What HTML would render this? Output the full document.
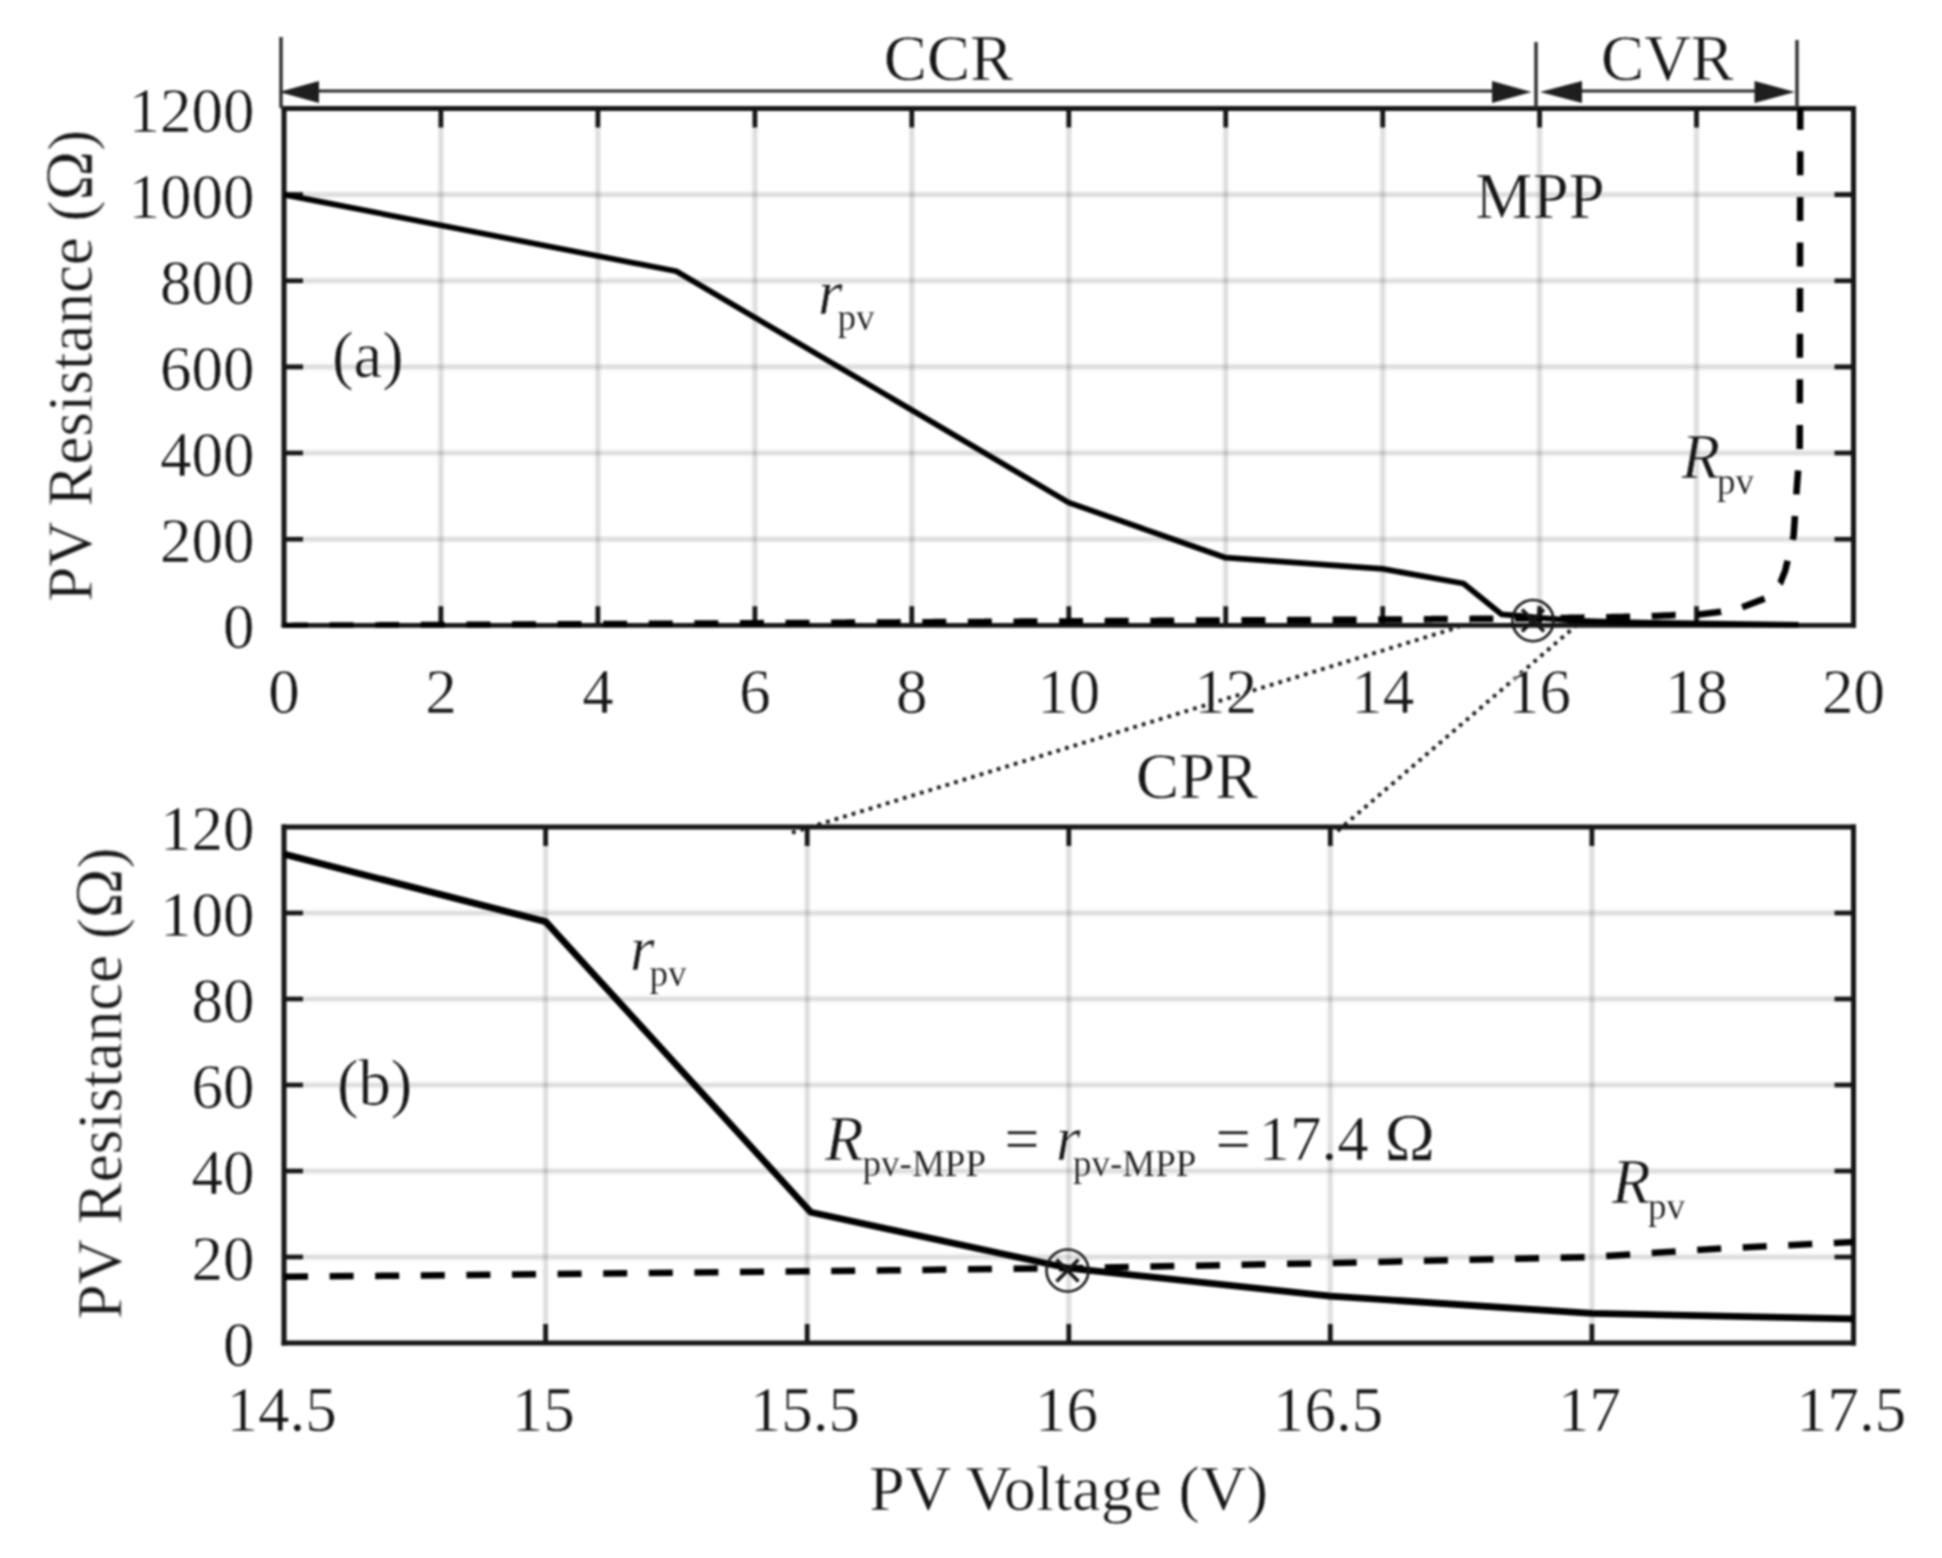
<!DOCTYPE html>
<html lang="en"><head><meta charset="utf-8"><title>PV Resistance vs PV Voltage</title>
<style>html,body{margin:0;padding:0;background:#fff;}body{width:1942px;height:1558px;overflow:hidden;}svg{display:block;}text{font-family:"Liberation Serif","DejaVu Serif",serif;fill:#161616;stroke:#fff;stroke-width:.55px;}.s{stroke-width:.25px;}.i{font-style:italic;}</style>
</head><body>
<svg width="1942" height="1558" viewBox="0 0 1942 1558">
<defs><filter id="b" x="0" y="0" width="1942" height="1558" filterUnits="userSpaceOnUse" color-interpolation-filters="sRGB"><feGaussianBlur stdDeviation="1.05"/></filter><filter id="g" x="0" y="0" width="1942" height="1558" filterUnits="userSpaceOnUse" color-interpolation-filters="sRGB"><feGaussianBlur stdDeviation="0.8"/></filter><clipPath id="c1"><rect x="281" y="106" width="1576" height="521.7"/></clipPath></defs>
<rect width="1942" height="1558" fill="#fff"/>
<g filter="url(#g)">
<path d="M440.9 108.5 V625.3 M597.9 108.5 V625.3 M754.9 108.5 V625.3 M911.8 108.5 V625.3 M1068.8 108.5 V625.3 M1225.7 108.5 V625.3 M1382.7 108.5 V625.3 M1539.6 108.5 V625.3 M1696.5 108.5 V625.3" stroke="#000" stroke-opacity="0.055" stroke-width="7" fill="none"/>
<path d="M440.9 108.5 V625.3 M597.9 108.5 V625.3 M754.9 108.5 V625.3 M911.8 108.5 V625.3 M1068.8 108.5 V625.3 M1225.7 108.5 V625.3 M1382.7 108.5 V625.3 M1539.6 108.5 V625.3 M1696.5 108.5 V625.3" stroke="#000" stroke-opacity="0.085" stroke-width="3.6" fill="none"/>
<path d="M284.0 539.2 H1853.5 M284.0 453.0 H1853.5 M284.0 366.9 H1853.5 M284.0 280.8 H1853.5 M284.0 194.6 H1853.5" stroke="#000" stroke-opacity="0.055" stroke-width="7" fill="none"/>
<path d="M284.0 539.2 H1853.5 M284.0 453.0 H1853.5 M284.0 366.9 H1853.5 M284.0 280.8 H1853.5 M284.0 194.6 H1853.5" stroke="#000" stroke-opacity="0.085" stroke-width="3.6" fill="none"/>
<path d="M545.6 827.0 V1343.0 M807.2 827.0 V1343.0 M1068.8 827.0 V1343.0 M1330.3 827.0 V1343.0 M1591.9 827.0 V1343.0" stroke="#000" stroke-opacity="0.055" stroke-width="7" fill="none"/>
<path d="M545.6 827.0 V1343.0 M807.2 827.0 V1343.0 M1068.8 827.0 V1343.0 M1330.3 827.0 V1343.0 M1591.9 827.0 V1343.0" stroke="#000" stroke-opacity="0.085" stroke-width="3.6" fill="none"/>
<path d="M284.0 1257.0 H1853.5 M284.0 1171.0 H1853.5 M284.0 1085.0 H1853.5 M284.0 999.0 H1853.5 M284.0 913.0 H1853.5" stroke="#000" stroke-opacity="0.055" stroke-width="7" fill="none"/>
<path d="M284.0 1257.0 H1853.5 M284.0 1171.0 H1853.5 M284.0 1085.0 H1853.5 M284.0 999.0 H1853.5 M284.0 913.0 H1853.5" stroke="#000" stroke-opacity="0.085" stroke-width="3.6" fill="none"/>
</g>
<g filter="url(#b)">
<path d="M440.9 108.5 v19 M440.9 625.3 v-19 M597.9 108.5 v19 M597.9 625.3 v-19 M754.9 108.5 v19 M754.9 625.3 v-19 M911.8 108.5 v19 M911.8 625.3 v-19 M1068.8 108.5 v19 M1068.8 625.3 v-19 M1225.7 108.5 v19 M1225.7 625.3 v-19 M1382.7 108.5 v19 M1382.7 625.3 v-19 M1539.6 108.5 v19 M1539.6 625.3 v-19 M1696.5 108.5 v19 M1696.5 625.3 v-19 M284.0 539.2 h19 M1853.5 539.2 h-19 M284.0 453.0 h19 M1853.5 453.0 h-19 M284.0 366.9 h19 M1853.5 366.9 h-19 M284.0 280.8 h19 M1853.5 280.8 h-19 M284.0 194.6 h19 M1853.5 194.6 h-19" stroke="#161616" stroke-width="4.6" fill="none"/>
<path d="M545.6 827.0 v19 M545.6 1343.0 v-19 M807.2 827.0 v19 M807.2 1343.0 v-19 M1068.8 827.0 v19 M1068.8 1343.0 v-19 M1330.3 827.0 v19 M1330.3 1343.0 v-19 M1591.9 827.0 v19 M1591.9 1343.0 v-19 M284.0 1257.0 h19 M1853.5 1257.0 h-19 M284.0 1171.0 h19 M1853.5 1171.0 h-19 M284.0 1085.0 h19 M1853.5 1085.0 h-19 M284.0 999.0 h19 M1853.5 999.0 h-19 M284.0 913.0 h19 M1853.5 913.0 h-19" stroke="#161616" stroke-width="4.6" fill="none"/>
<path d="M284.0 108.5 H1853.5 M284.0 625.3 H1853.5" fill="none" stroke="#161616" stroke-width="4.8" stroke-linecap="square"/>
<path d="M284.0 108.5 V625.3 M1853.5 108.5 V625.3" fill="none" stroke="#161616" stroke-width="5.1" stroke-linecap="square"/>
<path d="M284.0 827.0 H1853.5 M284.0 1343.0 H1853.5" fill="none" stroke="#161616" stroke-width="4.8" stroke-linecap="square"/>
<path d="M284.0 827.0 V1343.0 M1853.5 827.0 V1343.0" fill="none" stroke="#161616" stroke-width="5.1" stroke-linecap="square"/>
<polyline points="284.0,194.6 676.4,271.3 1068.8,502.6 1225.7,557.7 1382.7,568.9 1463.5,583.5 1501.5,614.3 1520.0,615.8 1539.6,617.8 1578.8,620.8 1618.1,622.1 1657.3,622.9 1798.6,624.9" fill="none" stroke="#000" stroke-width="5.7" stroke-linejoin="round"/>
<polyline points="284.0,625.9 285.6,625.9 287.1,625.9 288.7,625.9 290.3,625.9 291.8,625.9 293.4,625.8 295.0,625.8 296.6,625.8 298.1,625.8 299.7,625.8 301.3,625.8 302.8,625.8 304.4,625.8 306.0,625.8 307.5,625.8 309.1,625.8 310.7,625.7 312.3,625.7 313.8,625.7 315.4,625.7 317.0,625.7 318.5,625.7 320.1,625.7 321.7,625.7 323.2,625.7 324.8,625.7 326.4,625.7 327.9,625.6 329.5,625.6 331.1,625.6 332.7,625.6 334.2,625.6 335.8,625.6 337.4,625.6 338.9,625.6 340.5,625.6 342.1,625.6 343.6,625.6 345.2,625.5 346.8,625.5 348.3,625.5 349.9,625.5 351.5,625.5 353.1,625.5 354.6,625.5 356.2,625.5 357.8,625.5 359.3,625.5 360.9,625.5 362.5,625.4 364.0,625.4 365.6,625.4 367.2,625.4 368.8,625.4 370.3,625.4 371.9,625.4 373.5,625.4 375.0,625.4 376.6,625.4 378.2,625.4 379.7,625.3 381.3,625.3 382.9,625.3 384.4,625.3 386.0,625.3 387.6,625.3 389.2,625.3 390.7,625.3 392.3,625.3 393.9,625.3 395.4,625.3 397.0,625.2 398.6,625.2 400.1,625.2 401.7,625.2 403.3,625.2 404.9,625.2 406.4,625.2 408.0,625.2 409.6,625.2 411.1,625.2 412.7,625.2 414.3,625.1 415.8,625.1 417.4,625.1 419.0,625.1 420.5,625.1 422.1,625.1 423.7,625.1 425.3,625.1 426.8,625.1 428.4,625.1 430.0,625.1 431.5,625.0 433.1,625.0 434.7,625.0 436.2,625.0 437.8,625.0 439.4,625.0 441.0,625.0 442.5,625.0 444.1,625.0 445.7,625.0 447.2,625.0 448.8,624.9 450.4,624.9 451.9,624.9 453.5,624.9 455.1,624.9 456.6,624.9 458.2,624.9 459.8,624.9 461.4,624.9 462.9,624.9 464.5,624.9 466.1,624.8 467.6,624.8 469.2,624.8 470.8,624.8 472.3,624.8 473.9,624.8 475.5,624.8 477.0,624.8 478.6,624.8 480.2,624.8 481.8,624.8 483.3,624.7 484.9,624.7 486.5,624.7 488.0,624.7 489.6,624.7 491.2,624.7 492.7,624.7 494.3,624.7 495.9,624.7 497.5,624.7 499.0,624.7 500.6,624.6 502.2,624.6 503.7,624.6 505.3,624.6 506.9,624.6 508.4,624.6 510.0,624.6 511.6,624.6 513.1,624.6 514.7,624.6 516.3,624.6 517.9,624.5 519.4,624.5 521.0,624.5 522.6,624.5 524.1,624.5 525.7,624.5 527.3,624.5 528.8,624.5 530.4,624.5 532.0,624.5 533.6,624.5 535.1,624.4 536.7,624.4 538.3,624.4 539.8,624.4 541.4,624.4 543.0,624.4 544.5,624.4 546.1,624.4 547.7,624.4 549.2,624.4 550.8,624.4 552.4,624.3 554.0,624.3 555.5,624.3 557.1,624.3 558.7,624.3 560.2,624.3 561.8,624.3 563.4,624.3 564.9,624.3 566.5,624.3 568.1,624.3 569.6,624.2 571.2,624.2 572.8,624.2 574.4,624.2 575.9,624.2 577.5,624.2 579.1,624.2 580.6,624.2 582.2,624.2 583.8,624.2 585.3,624.2 586.9,624.2 588.5,624.1 590.1,624.1 591.6,624.1 593.2,624.1 594.8,624.1 596.3,624.1 597.9,624.1 599.5,624.1 601.0,624.1 602.6,624.1 604.2,624.1 605.7,624.0 607.3,624.0 608.9,624.0 610.5,624.0 612.0,624.0 613.6,624.0 615.2,624.0 616.7,624.0 618.3,624.0 619.9,624.0 621.4,624.0 623.0,623.9 624.6,623.9 626.2,623.9 627.7,623.9 629.3,623.9 630.9,623.9 632.4,623.9 634.0,623.9 635.6,623.9 637.1,623.9 638.7,623.9 640.3,623.8 641.8,623.8 643.4,623.8 645.0,623.8 646.6,623.8 648.1,623.8 649.7,623.8 651.3,623.8 652.8,623.8 654.4,623.8 656.0,623.8 657.5,623.7 659.1,623.7 660.7,623.7 662.2,623.7 663.8,623.7 665.4,623.7 667.0,623.7 668.5,623.7 670.1,623.7 671.7,623.7 673.2,623.7 674.8,623.6 676.4,623.6 677.9,623.6 679.5,623.6 681.1,623.6 682.7,623.6 684.2,623.6 685.8,623.6 687.4,623.6 688.9,623.6 690.5,623.6 692.1,623.5 693.6,623.5 695.2,623.5 696.8,623.5 698.3,623.5 699.9,623.5 701.5,623.5 703.1,623.5 704.6,623.5 706.2,623.5 707.8,623.5 709.3,623.4 710.9,623.4 712.5,623.4 714.0,623.4 715.6,623.4 717.2,623.4 718.8,623.4 720.3,623.4 721.9,623.4 723.5,623.4 725.0,623.4 726.6,623.3 728.2,623.3 729.7,623.3 731.3,623.3 732.9,623.3 734.4,623.3 736.0,623.3 737.6,623.3 739.2,623.3 740.7,623.3 742.3,623.3 743.9,623.2 745.4,623.2 747.0,623.2 748.6,623.2 750.1,623.2 751.7,623.2 753.3,623.2 754.8,623.2 756.4,623.2 758.0,623.2 759.6,623.2 761.1,623.1 762.7,623.1 764.3,623.1 765.8,623.1 767.4,623.1 769.0,623.1 770.5,623.1 772.1,623.1 773.7,623.1 775.3,623.1 776.8,623.1 778.4,623.0 780.0,623.0 781.5,623.0 783.1,623.0 784.7,623.0 786.2,623.0 787.8,623.0 789.4,623.0 790.9,623.0 792.5,623.0 794.1,623.0 795.7,622.9 797.2,622.9 798.8,622.9 800.4,622.9 801.9,622.9 803.5,622.9 805.1,622.9 806.6,622.9 808.2,622.9 809.8,622.9 811.4,622.9 812.9,622.8 814.5,622.8 816.1,622.8 817.6,622.8 819.2,622.8 820.8,622.8 822.3,622.8 823.9,622.8 825.5,622.8 827.0,622.8 828.6,622.8 830.2,622.7 831.8,622.7 833.3,622.7 834.9,622.7 836.5,622.7 838.0,622.7 839.6,622.7 841.2,622.7 842.7,622.7 844.3,622.7 845.9,622.7 847.5,622.6 849.0,622.6 850.6,622.6 852.2,622.6 853.7,622.6 855.3,622.6 856.9,622.6 858.4,622.6 860.0,622.6 861.6,622.6 863.1,622.6 864.7,622.5 866.3,622.5 867.9,622.5 869.4,622.5 871.0,622.5 872.6,622.5 874.1,622.5 875.7,622.5 877.3,622.5 878.8,622.5 880.4,622.5 882.0,622.4 883.5,622.4 885.1,622.4 886.7,622.4 888.3,622.4 889.8,622.4 891.4,622.4 893.0,622.4 894.5,622.4 896.1,622.4 897.7,622.4 899.2,622.3 900.8,622.3 902.4,622.3 904.0,622.3 905.5,622.3 907.1,622.3 908.7,622.3 910.2,622.3 911.8,622.3 913.4,622.3 914.9,622.3 916.5,622.2 918.1,622.2 919.6,622.2 921.2,622.2 922.8,622.2 924.4,622.2 925.9,622.2 927.5,622.2 929.1,622.2 930.6,622.2 932.2,622.2 933.8,622.1 935.3,622.1 936.9,622.1 938.5,622.1 940.1,622.1 941.6,622.1 943.2,622.1 944.8,622.1 946.3,622.1 947.9,622.1 949.5,622.1 951.0,622.0 952.6,622.0 954.2,622.0 955.7,622.0 957.3,622.0 958.9,622.0 960.5,622.0 962.0,622.0 963.6,622.0 965.2,622.0 966.7,622.0 968.3,621.9 969.9,621.9 971.4,621.9 973.0,621.9 974.6,621.9 976.1,621.9 977.7,621.9 979.3,621.9 980.9,621.9 982.4,621.9 984.0,621.9 985.6,621.8 987.1,621.8 988.7,621.8 990.3,621.8 991.8,621.8 993.4,621.8 995.0,621.8 996.6,621.8 998.1,621.8 999.7,621.8 1001.3,621.8 1002.8,621.7 1004.4,621.7 1006.0,621.7 1007.5,621.7 1009.1,621.7 1010.7,621.7 1012.2,621.7 1013.8,621.7 1015.4,621.7 1017.0,621.7 1018.5,621.7 1020.1,621.6 1021.7,621.6 1023.2,621.6 1024.8,621.6 1026.4,621.6 1027.9,621.6 1029.5,621.6 1031.1,621.6 1032.7,621.6 1034.2,621.6 1035.8,621.6 1037.4,621.5 1038.9,621.5 1040.5,621.5 1042.1,621.5 1043.6,621.5 1045.2,621.5 1046.8,621.5 1048.3,621.5 1049.9,621.5 1051.5,621.5 1053.1,621.5 1054.6,621.4 1056.2,621.4 1057.8,621.4 1059.3,621.4 1060.9,621.4 1062.5,621.4 1064.0,621.4 1065.6,621.4 1067.2,621.4 1068.7,621.4 1070.3,621.4 1071.9,621.3 1073.5,621.3 1075.0,621.3 1076.6,621.3 1078.2,621.3 1079.7,621.3 1081.3,621.3 1082.9,621.3 1084.4,621.3 1086.0,621.3 1087.6,621.3 1089.2,621.2 1090.7,621.2 1092.3,621.2 1093.9,621.2 1095.4,621.2 1097.0,621.2 1098.6,621.2 1100.1,621.2 1101.7,621.2 1103.3,621.2 1104.8,621.2 1106.4,621.1 1108.0,621.1 1109.6,621.1 1111.1,621.1 1112.7,621.1 1114.3,621.1 1115.8,621.1 1117.4,621.1 1119.0,621.1 1120.5,621.1 1122.1,621.1 1123.7,621.0 1125.3,621.0 1126.8,621.0 1128.4,621.0 1130.0,621.0 1131.5,621.0 1133.1,621.0 1134.7,621.0 1136.2,621.0 1137.8,621.0 1139.4,621.0 1140.9,620.9 1142.5,620.9 1144.1,620.9 1145.7,620.9 1147.2,620.9 1148.8,620.9 1150.4,620.9 1151.9,620.9 1153.5,620.9 1155.1,620.9 1156.6,620.9 1158.2,620.8 1159.8,620.8 1161.4,620.8 1162.9,620.8 1164.5,620.8 1166.1,620.8 1167.6,620.8 1169.2,620.8 1170.8,620.8 1172.3,620.8 1173.9,620.8 1175.5,620.7 1177.0,620.7 1178.6,620.7 1180.2,620.7 1181.8,620.7 1183.3,620.7 1184.9,620.7 1186.5,620.7 1188.0,620.7 1189.6,620.7 1191.2,620.7 1192.7,620.6 1194.3,620.6 1195.9,620.6 1197.4,620.6 1199.0,620.6 1200.6,620.6 1202.2,620.6 1203.7,620.6 1205.3,620.6 1206.9,620.6 1208.4,620.6 1210.0,620.5 1211.6,620.5 1213.1,620.5 1214.7,620.5 1216.3,620.5 1217.9,620.5 1219.4,620.5 1221.0,620.5 1222.6,620.5 1224.1,620.5 1225.7,620.5 1227.3,620.4 1228.8,620.4 1230.4,620.4 1232.0,620.4 1233.5,620.4 1235.1,620.4 1236.7,620.4 1238.3,620.4 1239.8,620.4 1241.4,620.4 1243.0,620.3 1244.5,620.3 1246.1,620.3 1247.7,620.3 1249.2,620.3 1250.8,620.3 1252.4,620.3 1254.0,620.3 1255.5,620.3 1257.1,620.3 1258.7,620.3 1260.2,620.2 1261.8,620.2 1263.4,620.2 1264.9,620.2 1266.5,620.2 1268.1,620.2 1269.6,620.2 1271.2,620.2 1272.8,620.2 1274.4,620.2 1275.9,620.2 1277.5,620.1 1279.1,620.1 1280.6,620.1 1282.2,620.1 1283.8,620.1 1285.3,620.1 1286.9,620.1 1288.5,620.1 1290.0,620.1 1291.6,620.1 1293.2,620.0 1294.8,620.0 1296.3,620.0 1297.9,620.0 1299.5,620.0 1301.0,620.0 1302.6,620.0 1304.2,620.0 1305.7,620.0 1307.3,620.0 1308.9,620.0 1310.5,619.9 1312.0,619.9 1313.6,619.9 1315.2,619.9 1316.7,619.9 1318.3,619.9 1319.9,619.9 1321.4,619.9 1323.0,619.9 1324.6,619.9 1326.1,619.8 1327.7,619.8 1329.3,619.8 1330.9,619.8 1332.4,619.8 1334.0,619.8 1335.6,619.8 1337.1,619.8 1338.7,619.8 1340.3,619.8 1341.8,619.8 1343.4,619.7 1345.0,619.7 1346.6,619.7 1348.1,619.7 1349.7,619.7 1351.3,619.7 1352.8,619.7 1354.4,619.7 1356.0,619.7 1357.5,619.7 1359.1,619.6 1360.7,619.6 1362.2,619.6 1363.8,619.6 1365.4,619.6 1367.0,619.6 1368.5,619.6 1370.1,619.6 1371.7,619.6 1373.2,619.6 1374.8,619.5 1376.4,619.5 1377.9,619.5 1379.5,619.5 1381.1,619.5 1382.6,619.5 1384.2,619.5 1385.8,619.5 1387.4,619.5 1388.9,619.4 1390.5,619.4 1392.1,619.4 1393.6,619.4 1395.2,619.4 1396.8,619.4 1398.3,619.4 1399.9,619.4 1401.5,619.4 1403.1,619.4 1404.6,619.3 1406.2,619.3 1407.8,619.3 1409.3,619.3 1410.9,619.3 1412.5,619.3 1414.0,619.3 1415.6,619.3 1417.2,619.3 1418.7,619.2 1420.3,619.2 1421.9,619.2 1423.5,619.2 1425.0,619.2 1426.6,619.2 1428.2,619.2 1429.7,619.2 1431.3,619.2 1432.9,619.1 1434.4,619.1 1436.0,619.1 1437.6,619.1 1439.2,619.1 1440.7,619.1 1442.3,619.1 1443.9,619.1 1445.4,619.1 1447.0,619.0 1448.6,619.0 1450.1,619.0 1451.7,619.0 1453.3,619.0 1454.8,619.0 1456.4,619.0 1458.0,619.0 1459.6,618.9 1461.1,618.9 1462.7,618.9 1464.3,618.9 1465.8,618.9 1467.4,618.9 1469.0,618.9 1470.5,618.9 1472.1,618.8 1473.7,618.8 1475.3,618.8 1476.8,618.8 1478.4,618.8 1480.0,618.8 1481.5,618.8 1483.1,618.8 1484.7,618.7 1486.2,618.7 1487.8,618.7 1489.4,618.7 1490.9,618.7 1492.5,618.7 1494.1,618.7 1495.7,618.6 1497.2,618.6 1498.8,618.6 1500.4,618.6 1501.9,618.6 1503.5,618.6 1505.1,618.6 1506.6,618.5 1508.2,618.5 1509.8,618.5 1511.3,618.5 1512.9,618.5 1514.5,618.5 1516.1,618.5 1517.6,618.4 1519.2,618.4 1520.8,618.4 1522.3,618.4 1523.9,618.4 1525.5,618.4 1527.0,618.3 1528.6,618.3 1530.2,618.3 1531.8,618.3 1533.3,618.3 1534.9,618.3 1536.5,618.2 1538.0,618.2 1539.6,618.2 1541.2,618.2 1542.7,618.2 1544.3,618.2 1545.9,618.1 1547.4,618.1 1549.0,618.1 1550.6,618.1 1552.2,618.1 1553.7,618.0 1555.3,618.0 1556.9,618.0 1558.4,618.0 1560.0,618.0 1561.6,617.9 1563.1,617.9 1564.7,617.9 1566.3,617.9 1567.9,617.9 1569.4,617.8 1571.0,617.8 1572.6,617.8 1574.1,617.8 1575.7,617.7 1577.3,617.7 1578.8,617.7 1580.4,617.7 1582.0,617.7 1583.5,617.6 1585.1,617.6 1586.7,617.6 1588.3,617.6 1589.8,617.5 1591.4,617.5 1593.0,617.5 1594.5,617.4 1596.1,617.4 1597.7,617.4 1599.2,617.4 1600.8,617.3 1602.4,617.3 1603.9,617.3 1605.5,617.2 1607.1,617.2 1608.7,617.2 1610.2,617.2 1611.8,617.1 1613.4,617.1 1614.9,617.1 1616.5,617.0 1618.1,617.0 1619.6,617.0 1621.2,616.9 1622.8,616.9 1624.4,616.8 1625.9,616.8 1627.5,616.8 1629.1,616.7 1630.6,616.7 1632.2,616.6 1633.8,616.6 1635.3,616.6 1636.9,616.5 1638.5,616.5 1640.0,616.4 1641.6,616.4 1643.2,616.3 1644.8,616.3 1646.3,616.2 1647.9,616.2 1649.5,616.1 1651.0,616.1 1652.6,616.0 1654.2,616.0 1655.7,615.9 1657.3,615.9 1658.9,615.8 1660.5,615.8 1662.0,615.7 1663.6,615.6 1665.2,615.6 1666.7,615.5 1668.3,615.4 1669.9,615.4 1671.4,615.3 1673.0,615.2 1674.6,615.1 1676.1,615.1 1677.7,615.0 1679.3,614.9 1680.9,614.8 1682.4,614.7 1684.0,614.7 1685.6,614.6 1687.1,614.5 1688.7,614.4 1698.8,614.4 1721.0,611.8 1742.0,607.3 1764.6,598.6 1780.4,582.8 1785.2,570.6 1793.6,536.0 1796.5,492.6 1799.7,449.0 1800.3,108.0" fill="none" stroke="#000" stroke-width="6.5" stroke-dasharray="24 21.6" stroke-linejoin="round" clip-path="url(#c1)"/>
<polyline points="284.0,854.1 545.6,921.6 810.8,1212.3 1068.8,1268.2 1330.3,1296.1 1591.9,1313.3 1853.5,1318.9" fill="none" stroke="#000" stroke-width="6.8" stroke-linejoin="round"/>
<polyline points="284.0,1276.8 545.6,1274.2 807.2,1271.2 1068.8,1268.2 1330.3,1263.0 1591.9,1257.0 1722.7,1248.4 1853.5,1242.0" fill="none" stroke="#000" stroke-width="6.5" stroke-dasharray="24 21.6" stroke-linejoin="round"/>
<circle cx="1533.0" cy="620.6" r="20.6" fill="none" stroke="#161616" stroke-width="2.6"/>
<path d="M1522.0 609.6 l22 22 M1522.0 631.6 l22 -22" stroke="#161616" stroke-width="3.6" fill="none"/>
<circle cx="1067.5" cy="1270.5" r="21.0" fill="none" stroke="#161616" stroke-width="2.6"/>
<path d="M1056.5 1259.5 l22 22 M1056.5 1281.5 l22 -22" stroke="#161616" stroke-width="3.6" fill="none"/>
<path d="M792 832.7 L1459 627 M1337.5 831 L1576.5 625.3" stroke="#161616" stroke-width="3.9" stroke-dasharray="3.7 5.23" fill="none"/>
<path d="M281 37 V108 M1536 42 V108 M1797 40 V108" stroke="#333" stroke-width="3.5" fill="none"/>
<path d="M300 91 H1515 M1560 91 H1775" stroke="#2a2a2a" stroke-width="3.2" fill="none"/>
<path d="M279.0 92.0 l40.0 -11 v22 z" fill="#1e1e1e"/>
<path d="M1531.5 92.0 l-39.5 -11 v22 z" fill="#1e1e1e"/>
<path d="M1540.0 92.0 l42.0 -11 v22 z" fill="#1e1e1e"/>
<path d="M1795.0 92.0 l-40.5 -11 v22 z" fill="#1e1e1e"/>
<text x="254.5" y="648.3" font-size="63" text-anchor="end">0</text>
<text x="254.5" y="562.2" font-size="63" text-anchor="end">200</text>
<text x="254.5" y="476.0" font-size="63" text-anchor="end">400</text>
<text x="254.5" y="389.9" font-size="63" text-anchor="end">600</text>
<text x="254.5" y="303.8" font-size="63" text-anchor="end">800</text>
<text x="254.5" y="217.6" font-size="63" text-anchor="end">1000</text>
<text x="254.5" y="131.5" font-size="63" text-anchor="end">1200</text>
<text x="284.0" y="712.5" font-size="63" text-anchor="middle">0</text>
<text x="440.9" y="712.5" font-size="63" text-anchor="middle">2</text>
<text x="597.9" y="712.5" font-size="63" text-anchor="middle">4</text>
<text x="754.9" y="712.5" font-size="63" text-anchor="middle">6</text>
<text x="911.8" y="712.5" font-size="63" text-anchor="middle">8</text>
<text x="1068.8" y="712.5" font-size="63" text-anchor="middle">10</text>
<text x="1225.7" y="712.5" font-size="63" text-anchor="middle">12</text>
<text x="1382.7" y="712.5" font-size="63" text-anchor="middle">14</text>
<text x="1539.6" y="712.5" font-size="63" text-anchor="middle">16</text>
<text x="1696.5" y="712.5" font-size="63" text-anchor="middle">18</text>
<text x="1853.5" y="712.5" font-size="63" text-anchor="middle">20</text>
<text x="254.5" y="1365.5" font-size="63" text-anchor="end">0</text>
<text x="254.5" y="1279.5" font-size="63" text-anchor="end">20</text>
<text x="254.5" y="1193.5" font-size="63" text-anchor="end">40</text>
<text x="254.5" y="1107.5" font-size="63" text-anchor="end">60</text>
<text x="254.5" y="1021.5" font-size="63" text-anchor="end">80</text>
<text x="254.5" y="935.5" font-size="63" text-anchor="end">100</text>
<text x="254.5" y="849.5" font-size="63" text-anchor="end">120</text>
<text x="281.7" y="1431.0" font-size="63" text-anchor="middle">14.5</text>
<text x="543.3" y="1431.0" font-size="63" text-anchor="middle">15</text>
<text x="804.9" y="1431.0" font-size="63" text-anchor="middle">15.5</text>
<text x="1066.5" y="1431.0" font-size="63" text-anchor="middle">16</text>
<text x="1328.0" y="1431.0" font-size="63" text-anchor="middle">16.5</text>
<text x="1589.6" y="1431.0" font-size="63" text-anchor="middle">17</text>
<text x="1851.2" y="1431.0" font-size="63" text-anchor="middle">17.5</text>
<text x="948.5" y="80.0" font-size="64.6" text-anchor="middle">CCR</text>
<text x="1667.5" y="80.0" font-size="64.6" text-anchor="middle">CVR</text>
<text x="1540.0" y="218.3" font-size="64.6" text-anchor="middle">MPP</text>
<text x="1197.0" y="798.0" font-size="64.6" text-anchor="middle">CPR</text>
<text x="332.0" y="376.5" font-size="64.6" text-anchor="start">(a)</text>
<text x="337.0" y="1104.5" font-size="64.6" text-anchor="start">(b)</text>
<text x="1068.5" y="1510" font-size="64" text-anchor="middle" textLength="399" lengthAdjust="spacing">PV Voltage (V)</text>
<text transform="translate(91.6,601.8) rotate(-90)" font-size="63" text-anchor="start">PV Resistance (<tspan font-size="67">Ω</tspan>)</text>
<text transform="translate(121.2,1319.5) rotate(-90)" font-size="63" text-anchor="start">PV Resistance (<tspan font-size="67">Ω</tspan>)</text>
<text x="818.0" y="314.0" font-size="63" class="i">r</text>
<text x="837.5" y="330.0" font-size="37" class="s">pv</text>
<text x="1681.5" y="478.0" font-size="63" class="i">R</text>
<text x="1717.0" y="494.0" font-size="37" class="s">pv</text>
<text x="630.0" y="970.0" font-size="63" class="i">r</text>
<text x="649.5" y="986.0" font-size="37" class="s">pv</text>
<text x="1612.0" y="1203.0" font-size="63" class="i">R</text>
<text x="1648.0" y="1219.0" font-size="37" class="s">pv</text>
<text x="825.0" y="1159.5" font-size="63" class="i">R</text>
<text x="862.6" y="1176.0" font-size="37" class="s">pv-MPP</text>
<text x="1004.3" y="1159.5" font-size="63" text-anchor="start">=</text>
<text x="1056.0" y="1159.5" font-size="63" class="i">r</text>
<text x="1073.0" y="1176.0" font-size="37" class="s">pv-MPP</text>
<text x="1215.6" y="1159.5" font-size="63" text-anchor="start">=</text>
<text x="1258.5" y="1159.5" font-size="63" text-anchor="start">17.4</text>
<text x="1384.5" y="1159.5" font-size="68" text-anchor="start">Ω</text>
</g></svg></body></html>
